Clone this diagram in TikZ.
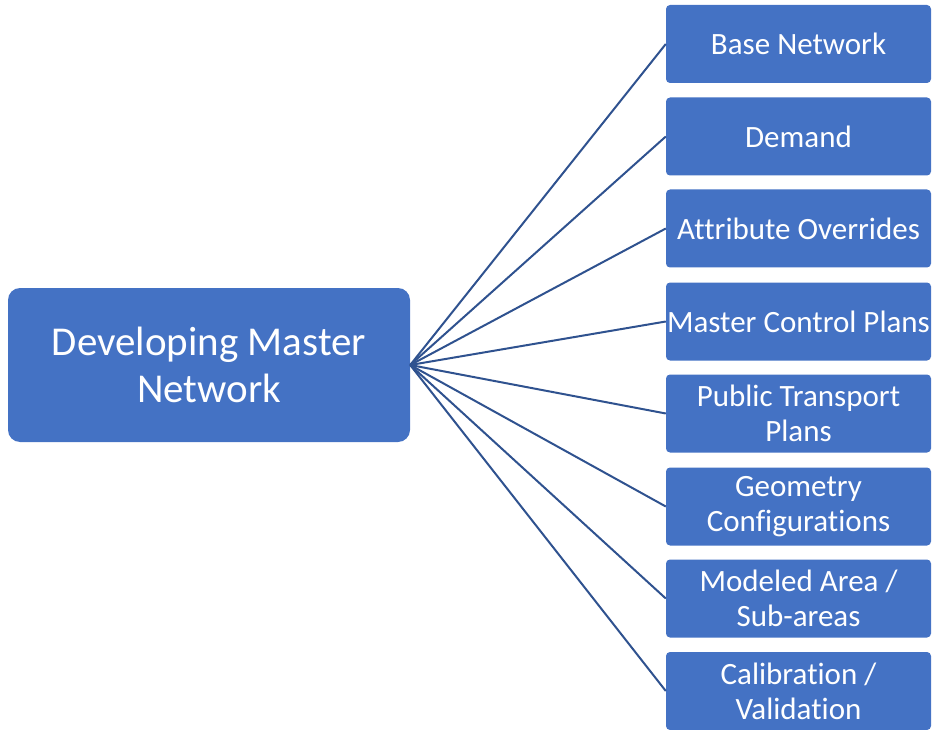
\documentclass[tikz,border=0pt]{standalone}
\usepackage{fontspec}
\setmainfont{Carlito}[Ligatures={NoCommon}]
\definecolor{boxblue}{RGB}{68,114,196}
\definecolor{lineblue}{RGB}{47,82,143}
\tikzset{
  mainbox/.style={rectangle, rounded corners=12pt, fill=boxblue, text=white,
    minimum width=402pt, minimum height=154pt, inner sep=0pt, align=center,
    font=\fontsize{41}{47}\selectfont},
  itembox/.style={rectangle, rounded corners=4pt, fill=boxblue, text=white,
    minimum width=265pt, minimum height=78pt, inner sep=0pt, align=center,
    font=\fontsize{31}{35}\selectfont},
  link/.style={draw=lineblue, line width=2pt}
}
\begin{document}
\begin{tikzpicture}[x=1pt, y=-1pt]
\useasboundingbox (0,0) rectangle (932,730);

    \node (dev) at (209,365) [mainbox] {Developing Master\\Network};

    \node (base) at (798.5,44) [itembox] {Base Network};
    \node (dem) at (798.5,136.5) [itembox] {Demand};
    \node (attr) at (798.5,228.5) [itembox] {Attribute Overrides};
    \node (ctrl) at (798.5,321.5) [itembox] {Master Control Plans};
    \node (pt) at (798.5,413.5) [itembox] {Public Transport\\Plans};
    \node (geo) at (798.5,506.5) [itembox] {Geometry\\Configurations};
    \node (area) at (798.5,598.5) [itembox] {Modeled Area /\\Sub-areas};
    \node (calib) at (798.5,691) [itembox] {Calibration /\\Validation};

    \draw[link] (dev.east) -- (base.west);
    \draw[link] (dev.east) -- (dem.west);
    \draw[link] (dev.east) -- (attr.west);
    \draw[link] (dev.east) -- (ctrl.west);
    \draw[link] (dev.east) -- (pt.west);
    \draw[link] (dev.east) -- (geo.west);
    \draw[link] (dev.east) -- (area.west);
    \draw[link] (dev.east) -- (calib.west);

\end{tikzpicture}
\end{document}
